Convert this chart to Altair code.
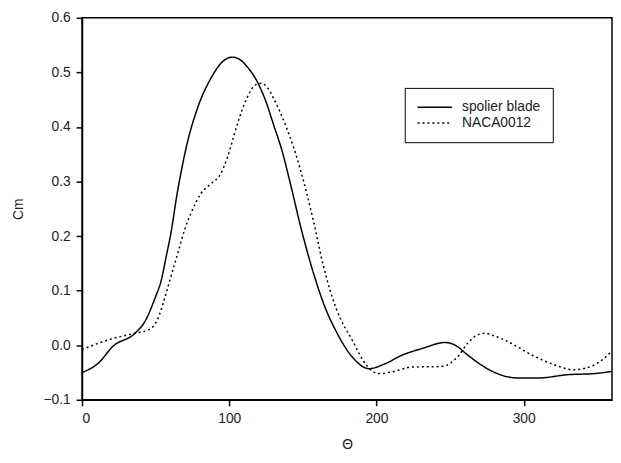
import altair as alt
import pandas as pd

spoiler_x = [0, 11, 21, 36, 42.6, 49.4, 54, 57.2, 60, 65, 71.8, 78.5, 87.5, 96.5, 102, 107, 112,
             119, 125, 130, 136, 141, 149, 157, 165, 172.7, 184, 195, 205, 217.6, 231, 246.8,
             253.5, 262, 270, 278, 296, 310, 330, 348, 360]
spoiler_y = [-0.050, -0.033, -0.002, 0.022, 0.043, 0.085, 0.121, 0.163, 0.200, 0.284, 0.374,
             0.435, 0.489, 0.522, 0.528, 0.524, 0.511, 0.483, 0.446, 0.405, 0.355, 0.302, 0.212,
             0.134, 0.070, 0.025, -0.023, -0.043, -0.035, -0.018, -0.006, 0.005, 0.000,
             -0.018, -0.034, -0.047, -0.060, -0.060, -0.054, -0.052, -0.048]

naca_x = [0, 18, 36, 45, 51.6, 56, 60.5, 65, 69.5, 74, 80.8, 87.5, 94.2, 98.7, 105.5, 112,
          117.8, 122, 126, 130, 139, 148, 157, 164, 172.7, 184, 193, 202, 212, 224, 244.5,
          255.5, 262, 268, 273.7, 280, 289, 307, 320, 334, 348, 360]
naca_y = [-0.008, 0.010, 0.022, 0.028, 0.049, 0.085, 0.127, 0.168, 0.210, 0.242, 0.278, 0.296,
          0.314, 0.344, 0.405, 0.453, 0.477, 0.480, 0.472, 0.453, 0.398, 0.325, 0.230, 0.145,
          0.067, 0.007, -0.036, -0.052, -0.048, -0.040, -0.039, -0.020, 0.004, 0.018, 0.022,
          0.017, 0.007, -0.020, -0.035, -0.045, -0.036, -0.011]

series_names = ["spolier blade", "NACA0012"]

df = pd.concat([
    pd.DataFrame({"theta": spoiler_x, "cm": spoiler_y, "series": series_names[0], "order": range(len(spoiler_x))}),
    pd.DataFrame({"theta": naca_x, "cm": naca_y, "series": series_names[1], "order": range(len(naca_x))}),
])

FONT = "Liberation Sans"
TXT = "#222222"

chart = alt.Chart(df).mark_line(color="black", strokeWidth=1.5, interpolate="monotone").encode(
    x=alt.X("theta:Q", title="Θ",
            scale=alt.Scale(domain=[0, 360], nice=False, zero=False),
            axis=alt.Axis(values=[0, 100, 200, 300], grid=False, labelPadding=6,
                          titlePadding=12)),
    y=alt.Y("cm:Q", title="Cm",
            scale=alt.Scale(domain=[-0.1, 0.6], nice=False, zero=False),
            axis=alt.Axis(values=[-0.1, 0.0, 0.1, 0.2, 0.3, 0.4, 0.5, 0.6], format=".1f",
                          grid=False, labelPadding=6, titlePadding=18)),
    strokeDash=alt.StrokeDash("series:N", title=None,
                              scale=alt.Scale(domain=series_names, range=[[1, 0], [2, 3]]),
                              legend=alt.Legend(orient="none", legendX=327, legendY=71,
                                                strokeColor="black", padding=12,
                                                symbolType="stroke", symbolSize=1225,
                                                symbolStrokeWidth=1.5, symbolStrokeColor="black",
                                                clipHeight=15,
                                                labelFontSize=14, labelFont=FONT, labelColor=TXT,
                                                labelOffset=9, rowPadding=1)),
    order="order:Q",
).properties(
    width=537, height=387,
    autosize=alt.AutoSizeParams(type="none"),
    padding={"left": 75, "top": 7, "right": 1, "bottom": 55},
).configure_view(
    stroke="black", strokeWidth=1.5
).configure_axis(
    domainColor="black", domainWidth=1.5, tickColor="black", tickWidth=1.5, tickSize=6,
    labelFont=FONT, labelFontSize=14, labelColor=TXT,
    titleFont=FONT, titleFontSize=14, titleColor=TXT, titleFontWeight="normal",
)

chart.save("out.html", embed_options={"renderer": "svg", "actions": False})
